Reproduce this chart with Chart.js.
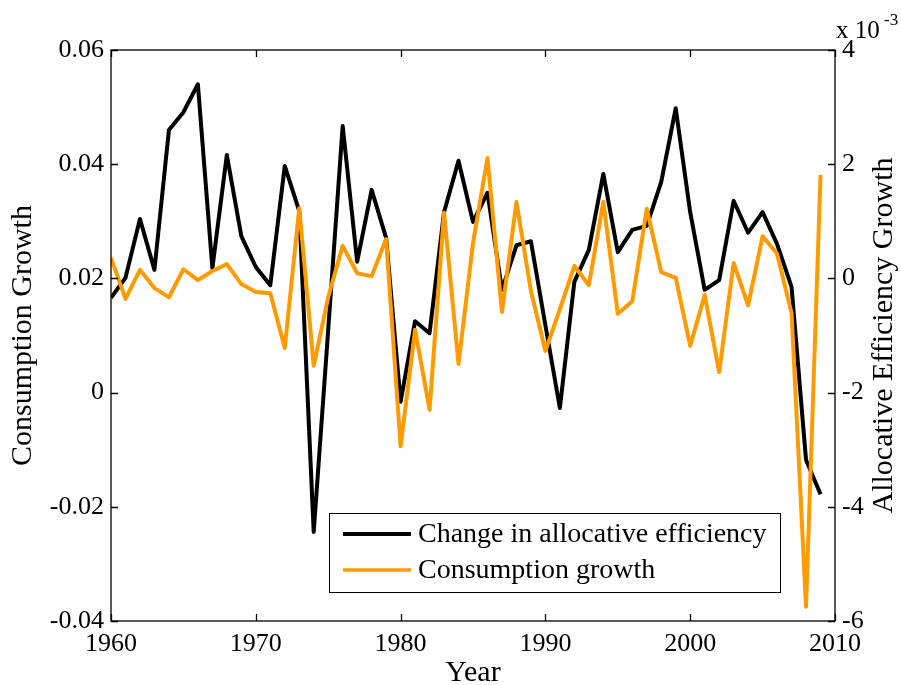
<!DOCTYPE html>
<html>
<head>
<meta charset="utf-8">
<title>Allocative efficiency and consumption growth</title>
<script src="https://cdn.jsdelivr.net/npm/chart.js@4.4.0/dist/chart.umd.min.js"></script>
<style>
  html, body { margin: 0; padding: 0; background: #fff; }
  canvas { display: block; }
</style>
</head>
<body>
<canvas id="growth-chart" width="901" height="685"></canvas>
<script>
  // Data
  var years = [1960, 1961, 1962, 1963, 1964, 1965, 1966, 1967, 1968, 1969,
               1970, 1971, 1972, 1973, 1974, 1975, 1976, 1977, 1978, 1979,
               1980, 1981, 1982, 1983, 1984, 1985, 1986, 1987, 1988, 1989,
               1990, 1991, 1992, 1993, 1994, 1995, 1996, 1997, 1998, 1999,
               2000, 2001, 2002, 2003, 2004, 2005, 2006, 2007, 2008, 2009];

  // right axis, in units of 10^-3
  var allocEfficiency = [-0.34, 0.01, 1.04, 0.15, 2.60, 2.91, 3.40, 0.18, 2.16, 0.74,
                         0.20, -0.12, 1.97, 1.18, -4.44, -0.90, 2.67, 0.29, 1.55, 0.71,
                         -2.16, -0.75, -0.96, 1.16, 2.06, 0.99, 1.50, -0.20, 0.58, 0.65,
                         -0.82, -2.27, -0.06, 0.50, 1.83, 0.46, 0.85, 0.92, 1.69, 2.98,
                         1.16, -0.20, -0.03, 1.36, 0.80, 1.16, 0.60, -0.15, -3.18, -3.78];

  // left axis
  var consumptionGrowth = [0.0236, 0.0164, 0.0215, 0.0183, 0.0167, 0.0216, 0.0197, 0.0213, 0.0225, 0.0190,
                           0.0176, 0.0174, 0.0078, 0.0323, 0.0047, 0.0167, 0.0257, 0.0209, 0.0204, 0.0269,
                           -0.0094, 0.0110, -0.0030, 0.0315, 0.0050, 0.0262, 0.0411, 0.0141, 0.0334, 0.0178,
                           0.0073, 0.0146, 0.0222, 0.0188, 0.0334, 0.0138, 0.0160, 0.0322, 0.0211, 0.0201,
                           0.0082, 0.0171, 0.0036, 0.0227, 0.0153, 0.0274, 0.0243, 0.0139, -0.0375, 0.0381];

  var xTicks = [1960, 1970, 1980, 1990, 2000, 2010];
  var leftTicks = [-0.04, -0.02, 0, 0.02, 0.04, 0.06];
  var leftTickLabels = ["-0.04", "-0.02", "0", "0.02", "0.04", "0.06"];
  var rightTicks = [-6, -4, -2, 0, 2, 4];
  var rightTickLabels = ["-6", "-4", "-2", "0", "2", "4"];

  var SERIF = "'Liberation Serif', 'DejaVu Serif', serif";
  var ORANGE = "rgb(255, 155, 0)";

  Chart.defaults.font.family = SERIF;
  Chart.defaults.color = "#000";

  function toPoints(values) {
    return values.map(function (v, i) { return { x: years[i], y: v }; });
  }

  // Box, inward ticks, legend, right title and exponent (matlab look)
  var decorations = {
    id: "decorations",
    afterDatasetsDraw: function (chart) {
      var ctx = chart.ctx;
      var a = chart.chartArea;
      var sx = chart.scales.x, sl = chart.scales.yL, sr = chart.scales.yR;
      var tick = 7;

      ctx.save();
      ctx.strokeStyle = "#000";
      ctx.lineWidth = 1.3;
      ctx.beginPath();
      xTicks.forEach(function (v) {
        var px = Math.round(sx.getPixelForValue(v)) + 0.5;
        ctx.moveTo(px, a.bottom); ctx.lineTo(px, a.bottom - tick);
        ctx.moveTo(px, a.top); ctx.lineTo(px, a.top + tick);
      });
      leftTicks.forEach(function (v) {
        var py = Math.round(sl.getPixelForValue(v)) + 0.5;
        ctx.moveTo(a.left, py); ctx.lineTo(a.left + tick, py);
      });
      rightTicks.forEach(function (v) {
        var py = Math.round(sr.getPixelForValue(v)) + 0.5;
        ctx.moveTo(a.right, py); ctx.lineTo(a.right - tick, py);
      });
      ctx.stroke();
      ctx.strokeRect(a.left, a.top, a.right - a.left, a.bottom - a.top);

      // legend
      var lx = 329, ly = 513, lw = 451, lh = 79;
      ctx.fillStyle = "#fff";
      ctx.fillRect(lx, ly, lw, lh);
      ctx.lineWidth = 1;
      ctx.strokeRect(lx + 0.5, ly + 0.5, lw, lh);
      var rows = [chart.data.datasets[0], chart.data.datasets[1]];
      ctx.font = "28px " + SERIF;
      ctx.textBaseline = "middle";
      ctx.textAlign = "left";
      rows.forEach(function (ds, i) {
        var y = 534 + i * 36;
        ctx.strokeStyle = ds.borderColor;
        ctx.lineWidth = i === 0 ? 4 : 3.5;
        ctx.beginPath();
        ctx.moveTo(343, y); ctx.lineTo(411, y);
        ctx.stroke();
        ctx.fillStyle = "#000";
        ctx.fillText(ds.label, 418, y + 1);
      });

      // right axis title, reading upwards like the left one
      ctx.save();
      ctx.translate(884, (a.top + a.bottom) / 2);
      ctx.rotate(-Math.PI / 2);
      ctx.textAlign = "center";
      ctx.font = "30px " + SERIF;
      ctx.fillText("Allocative Efficiency Growth", 0, 0);
      ctx.restore();

      // x 10^-3
      ctx.textAlign = "left";
      ctx.textBaseline = "alphabetic";
      ctx.font = "25px " + SERIF;
      ctx.fillText("x 10", 836, 38);
      ctx.font = "17px " + SERIF;
      ctx.fillText("-3", 884, 25);
      ctx.restore();
    }
  };

  var ctx = document.getElementById("growth-chart");
  var growthChart = new Chart(ctx.getContext("2d"), {
    type: "line",
    data: {
      datasets: [
        {
          label: "Change in allocative efficiency",
          data: toPoints(allocEfficiency),
          yAxisID: "yR",
          borderColor: "#000",
          borderWidth: 4,
          pointRadius: 0,
          tension: 0,
          borderJoinStyle: "round",
          order: 1,
        },
        {
          label: "Consumption growth",
          data: toPoints(consumptionGrowth),
          yAxisID: "yL",
          borderColor: ORANGE,
          borderWidth: 4,
          pointRadius: 0,
          tension: 0,
          borderJoinStyle: "round",
          order: 0,
        },
      ],
    },
    options: {
      responsive: false,
      animation: false,
      layout: { padding: { top: 50, left: 0, right: 0, bottom: 0 } },
      plugins: {
        legend: { display: false },
        tooltip: { enabled: false },
      },
      scales: {
        x: {
          type: "linear",
          min: 1960,
          max: 2010,
          afterBuildTicks: function (axis) {
            axis.ticks = xTicks.map(function (v) { return { value: v }; });
          },
          afterFit: function (axis) { axis.height = 64; },
          grid: { display: false, drawTicks: false },
          border: { display: false },
          ticks: {
            padding: 8,
            maxRotation: 0,
            autoSkip: false,
            font: { size: 26 },
            callback: function (v) { return String(v); },
          },
          title: {
            display: true,
            text: "Year",
            font: { size: 30, lineHeight: 0.8 },
            padding: 0,
          },
        },
        yL: {
          type: "linear",
          position: "left",
          min: -0.04,
          max: 0.06,
          afterBuildTicks: function (axis) {
            axis.ticks = leftTicks.map(function (v) { return { value: v }; });
          },
          afterFit: function (axis) { axis.width = 111; },
          grid: { display: false, drawTicks: false },
          border: { display: false },
          ticks: {
            padding: 7,
            font: { size: 26 },
            callback: function (v, i) { return leftTickLabels[i]; },
          },
          title: {
            display: true,
            text: "Consumption Growth",
            font: { size: 30, lineHeight: 1.2 },
            padding: { top: 5, bottom: 0 },
          },
        },
        yR: {
          type: "linear",
          position: "right",
          min: -6,
          max: 4,
          afterBuildTicks: function (axis) {
            axis.ticks = rightTicks.map(function (v) { return { value: v }; });
          },
          afterFit: function (axis) { axis.width = 66; },
          grid: { display: false, drawTicks: false },
          border: { display: false },
          ticks: {
            padding: 7,
            font: { size: 26 },
            callback: function (v, i) { return rightTickLabels[i]; },
          },
        },
      },
    },
    plugins: [decorations],
  });
</script>
</body>
</html>
